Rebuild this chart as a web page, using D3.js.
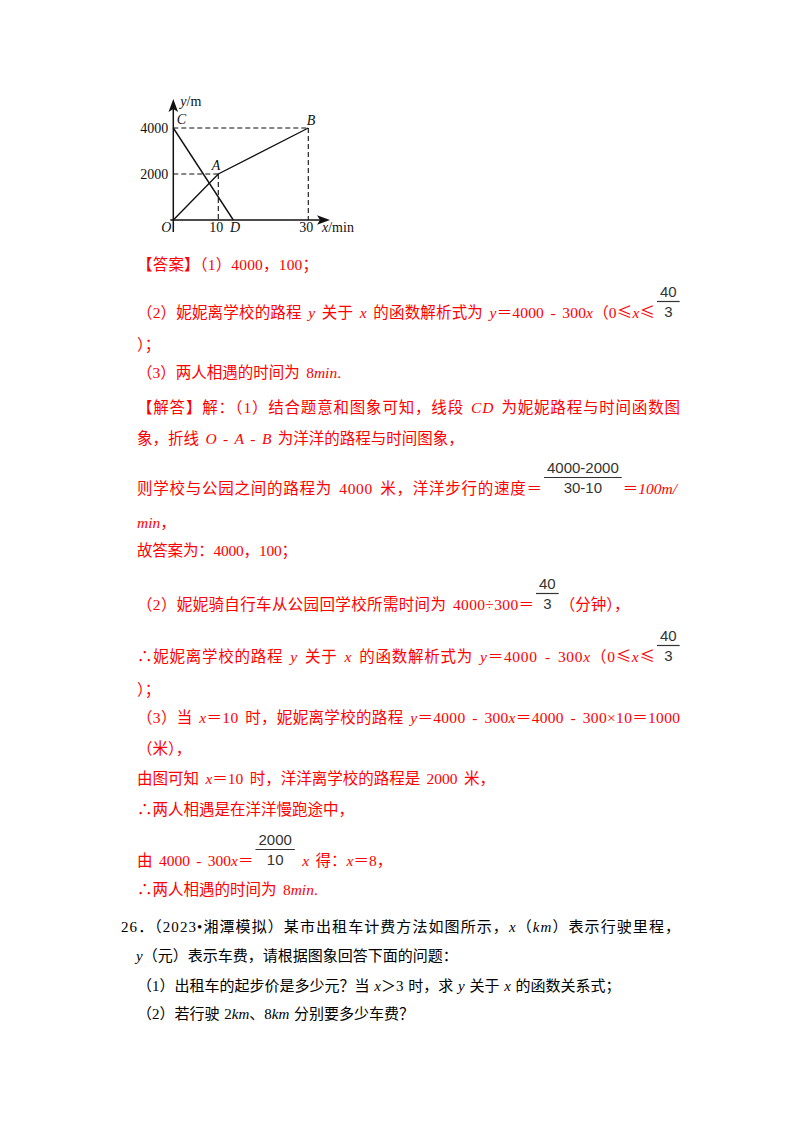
<!DOCTYPE html>
<html><head><meta charset="utf-8">
<script src="https://cdn.jsdelivr.net/npm/d3@7"></script>
<style>html,body{margin:0;padding:0;background:#fff;} svg{display:block;}</style>
</head><body>
<svg id="c" width="800" height="1132"></svg>
<script>
// ---- chart data ----
const pointNames = ['O', 'A', 'B', 'C', 'D'];
const pointX = [0, 10, 30, 0, 4000 / 300];
const pointY = [0, 2000, 4000, 4000, 0];
const yangyangPath = ['O', 'A', 'B'];
const niniPath = ['C', 'D'];
const guidePoints = ['A', 'B'];
const xTicks = [10, 30];
const xTickLabels = ['10', '30'];
const yTicks = [2000, 4000];
const yTickLabels = ['2000', '4000'];
const xAxisLabel = ['x', '/min'];
const yAxisLabel = ['y', '/m'];

// ---- text content ----
const textLines = [
  {y: 270, j: 318, segs: ['【答案】（1）4000，100；']},
  {y: 318, j: 655, segs: ['（2）妮妮离学校的路程 {y} 关于 {x} 的函数解析式为 {y}＝4000 - 300{x}（0≤{x}≤', {n: '40', d: '3'}]},
  {y: 350, segs: ['）；']},
  {y: 378, segs: ['（3）两人相遇的时间为 8{min}.']},
  {y: 413, j: 680, segs: ['【解答】解：（1）结合题意和图象可知，线段 {CD} 为妮妮路程与时间函数图']},
  {y: 444, segs: ['象，折线 {O} - {A} - {B} 为洋洋的路程与时间图象，']},
  {y: 494, j: 542, segs: ['则学校与公园之间的路程为 4000 米，洋洋步行的速度＝', {n: '4000-2000', d: '30-10'}, '＝{100m/}']},
  {y: 528, segs: ['{min}，']},
  {y: 556, j: 297, segs: ['故答案为：4000，100；']},
  {y: 610, j: 534, segs: ['（2）妮妮骑自行车从公园回学校所需时间为 4000÷300＝', {n: '40', d: '3'}, '（分钟），']},
  {y: 662, j: 655, segs: ['∴妮妮离学校的路程 {y} 关于 {x} 的函数解析式为 {y}＝4000 - 300{x}（0≤{x}≤', {n: '40', d: '3'}]},
  {y: 695, segs: ['）；']},
  {y: 723, j: 680, segs: ['（3）当 {x}＝10 时，妮妮离学校的路程 {y}＝4000 - 300{x}＝4000 - 300×10＝1000']},
  {y: 754, segs: ['（米），']},
  {y: 784, segs: ['由图可知 {x}＝10 时，洋洋离学校的路程是 2000 米，']},
  {y: 815, segs: ['∴两人相遇是在洋洋慢跑途中，']},
  {y: 866, segs: ['由 4000 - 300{x}＝', {n: '2000', d: '10'}, ' {x} 得：{x}＝8，']},
  {y: 895, segs: ['∴两人相遇的时间为 8{min}.']},
  {y: 932, x: 121, j: 680, c: '#000', fs: 15, segs: ['26．（2023•湘潭模拟）某市出租车计费方法如图所示，{x}（{km}）表示行驶里程，']},
  {y: 961, x: 136, c: '#000', fs: 15, segs: ['{y}（元）表示车费，请根据图象回答下面的问题：']},
  {y: 991, x: 137, c: '#000', fs: 15, segs: ['（1）出租车的起步价是多少元？当 {x}＞3 时，求 {y} 关于 {x} 的函数关系式；']},
  {y: 1019, x: 137, c: '#000', fs: 15, segs: ['（2）若行驶 2{km}、8{km} 分别要多少车费？']}
];

const LATIN = '"Liberation Serif",serif';
const CJK = '"Noto Sans CJK SC",sans-serif';
const FS = 15.5;
const RED = '#ff0000';

const svg = d3.select('#c');
svg.append('rect').attr('width', 800).attr('height', 1132).attr('fill', '#fff');

// ---- chart ----
const xS = d3.scaleLinear().domain([0, 30]).range([173.3, 308.3]);
const yS = d3.scaleLinear().domain([0, 4000]).range([220, 128]);
const P = {};
pointNames.forEach((n, i) => P[n] = [pointX[i], pointY[i]]);
const ch = svg.append('g').attr('class', 'chart');
const ink = '#111';

// dashed guides
guidePoints.forEach(n => {
  const [px, py] = P[n];
  ch.append('line').attr('x1', xS(0)).attr('x2', xS(px)).attr('y1', yS(py)).attr('y2', yS(py))
    .attr('stroke', ink).attr('stroke-width', 1.1).attr('stroke-dasharray', '5,3');
  ch.append('line').attr('x1', xS(px)).attr('x2', xS(px)).attr('y1', yS(py)).attr('y2', yS(0))
    .attr('stroke', ink).attr('stroke-width', 1.1).attr('stroke-dasharray', '5,3');
});

// axes
ch.append('line').attr('x1', xS(0)).attr('x2', xS(0)).attr('y1', yS(0) + 12).attr('y2', 108)
  .attr('stroke', ink).attr('stroke-width', 1.5);
ch.append('line').attr('x1', xS(0) - 3).attr('x2', 320).attr('y1', yS(0)).attr('y2', yS(0))
  .attr('stroke', ink).attr('stroke-width', 1.5);
const ax = xS(0);
ch.append('path').attr('d', `M${ax},99 L${ax + 4.8},112 L${ax},109 L${ax - 4.8},112 Z`).attr('fill', ink);
const ay = yS(0);
ch.append('path').attr('d', `M330,${ay} L317,${ay - 4.8} L320,${ay} L317,${ay + 4.8} Z`).attr('fill', ink);

// function lines
const lineGen = d3.line().x(d => xS(P[d][0])).y(d => yS(P[d][1]));
[yangyangPath, niniPath].forEach(p => {
  ch.append('path').attr('d', lineGen(p)).attr('fill', 'none').attr('stroke', ink).attr('stroke-width', 1.4);
});

const cf = {'font-family': LATIN, 'font-size': 14, fill: ink};
function ctext(x, y, anchor) {
  const t = ch.append('text').attr('x', x).attr('y', y).attr('text-anchor', anchor || 'start');
  Object.entries(cf).forEach(([k, v]) => t.attr(k, v));
  return t;
}
// tick labels
yTicks.forEach((v, i) => ctext(xS(0) - 5, yS(v) + 4.5, 'end').text(yTickLabels[i]));
xTicks.forEach((v, i) => ctext(xS(v) - 2, yS(0) + 12, 'middle').text(xTickLabels[i]));
// axis labels
let t = ctext(xS(0) + 7, 106);
t.append('tspan').attr('font-style', 'italic').text(yAxisLabel[0]);
t.append('tspan').text(yAxisLabel[1]);
t = ctext(322, yS(0) + 12);
t.append('tspan').attr('font-style', 'italic').text(xAxisLabel[0]);
t.append('tspan').text(xAxisLabel[1]);
// point labels
const labelOff = {O: [-12, 12], A: [-6.5, -4.5], B: [-1.5, -3.5], C: [3.5, -4], D: [-3.3, 12]};
pointNames.forEach(n => {
  const [px, py] = P[n];
  ctext(xS(px) + labelOff[n][0], yS(py) + labelOff[n][1]).attr('font-style', 'italic').text(n);
});

// ---- text ----
const cjkRe = /([\u2200-\u22FF\u3000-\u9FFF\uFF00-\uFFEF]+)/;
function addRuns(sel, str) {
  str.split(/(\{[^}]*\})/).filter(s => s.length).forEach(s => {
    if (s[0] === '{') {
      sel.append('tspan').attr('font-family', LATIN).attr('font-style', 'italic').text(s.slice(1, -1));
    } else {
      s.split(cjkRe).filter(p => p.length).forEach(p => {
        sel.append('tspan').attr('font-family', cjkRe.test(p) ? CJK : LATIN).text(p);
      });
    }
  });
}
const body = svg.append('g').attr('class', 'body');
const FRAC_FONT = '"Liberation Sans",Arial,sans-serif';
textLines.forEach(ln => {
  let cursor = ln.x != null ? ln.x : 137;
  const col = ln.c || RED;
  ln.segs.forEach((seg, si) => {
    if (typeof seg === 'string') {
      const te = body.append('text').attr('x', cursor).attr('y', ln.y)
        .attr('font-size', ln.fs || FS).attr('fill', col)
        .style('white-space', 'pre').style('word-spacing', ln.c ? '1px' : '2.5px');
      addRuns(te, seg);
      let w = te.node().getComputedTextLength();
      if (si === 0 && ln.j) {
        te.attr('textLength', ln.j - cursor).attr('lengthAdjust', 'spacing');
        w = ln.j - cursor;
      }
      cursor += w;
    } else {
      const fg = body.append('g');
      const nt = fg.append('text').attr('font-family', FRAC_FONT)
        .attr('font-size', 15).attr('fill', '#333').attr('text-anchor', 'middle').text(seg.n);
      const dt = fg.append('text').attr('font-family', FRAC_FONT)
        .attr('font-size', 15).attr('fill', '#333').attr('text-anchor', 'middle').text(seg.d);
      const fw = Math.max(nt.node().getComputedTextLength(), dt.node().getComputedTextLength()) + 6;
      const cx = cursor + 2 + fw / 2;
      nt.attr('x', cx).attr('y', ln.y - 21);
      dt.attr('x', cx).attr('y', ln.y - 1.5);
      fg.append('line').attr('x1', cx - fw / 2).attr('x2', cx + fw / 2)
        .attr('y1', ln.y - 16.5).attr('y2', ln.y - 16.5).attr('stroke', '#333').attr('stroke-width', 1.2);
      cursor = cx + fw / 2 + 1;
    }
  });
});
</script>
</body></html>
